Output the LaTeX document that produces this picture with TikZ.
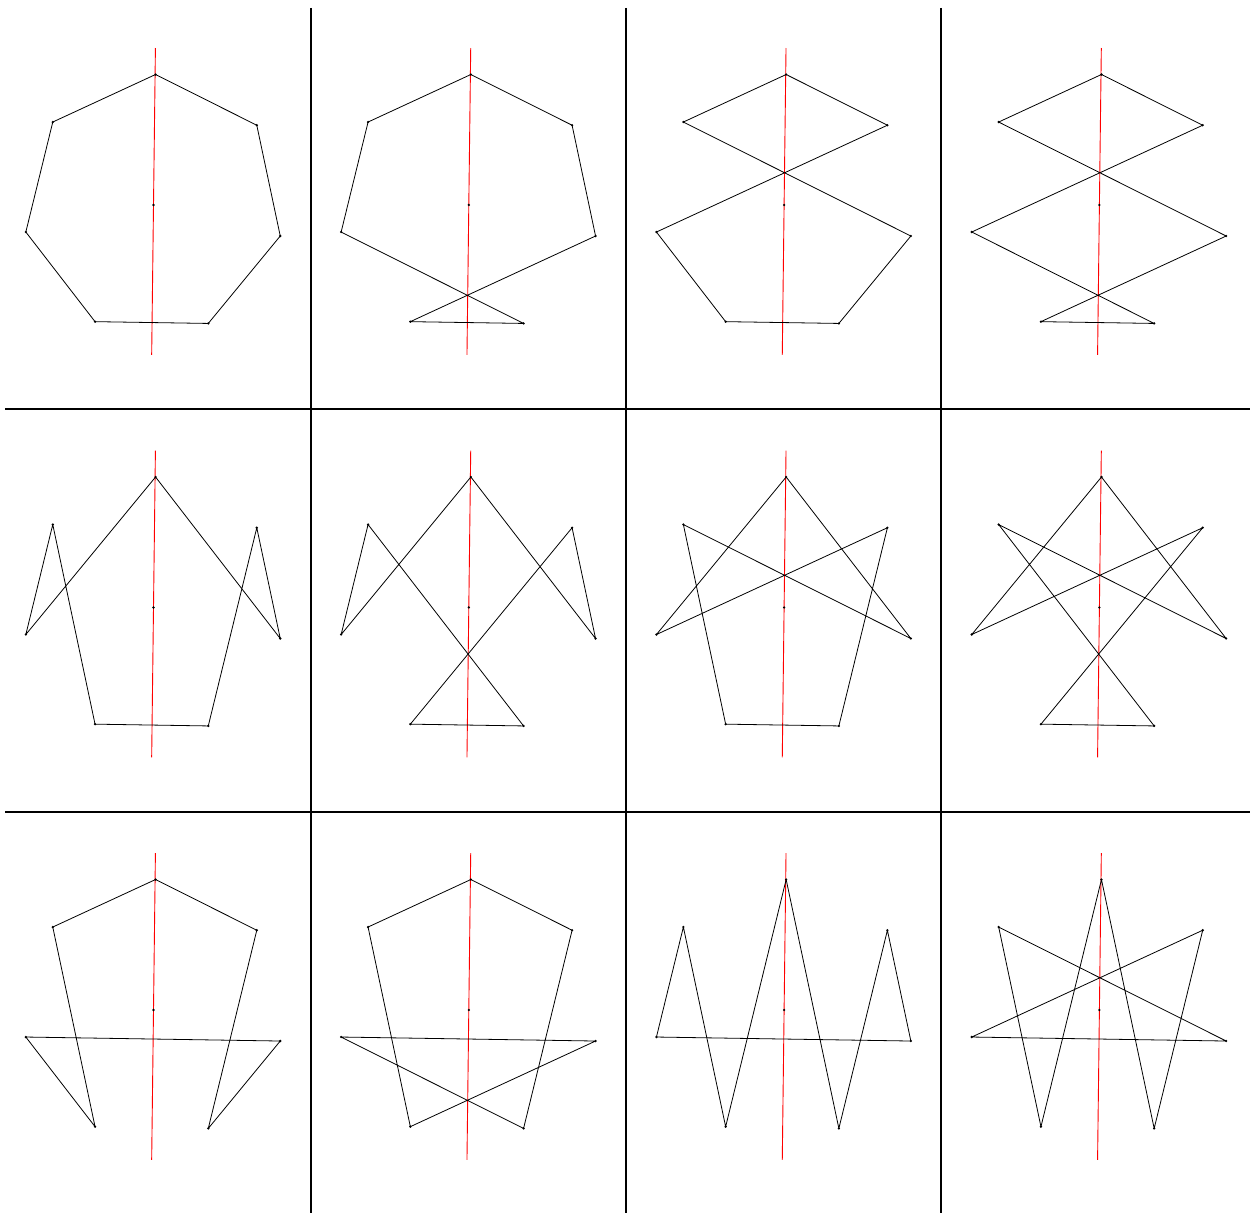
\documentclass[tikz,border=0pt]{standalone}
\usetikzlibrary{calc}
\begin{document}
\begin{tikzpicture}[x=1pt,y=1pt,
  edge/.style={black,line width=0.8pt,line join=round},
  axisline/.style={red,line width=0.9pt},
  gridline/.style={black,line width=1.2pt}]
\useasboundingbox (0,0) rectangle (1250,1213);
% grid
\coordinate (h1a) at (5,{1213-409});   \coordinate (h1b) at (1250,{1213-409});
\coordinate (h2a) at (5,{1213-812});   \coordinate (h2b) at (1250,{1213-812});
\coordinate (v1a) at (311,{1213-8});   \coordinate (v1b) at (311,0);
\coordinate (v2a) at (626,{1213-8});   \coordinate (v2b) at (626,0);
\coordinate (v3a) at (941,{1213-8});   \coordinate (v3b) at (941,0);
\draw[gridline] (h1a) -- (h1b);
\draw[gridline] (h2a) -- (h2b);
\draw[gridline] (v1a) -- (v1b);
\draw[gridline] (v2a) -- (v2b);
\draw[gridline] (v3a) -- (v3b);
% points
\foreach \r in {0,1,2}{
  \foreach \c in {0,1,2,3}{
    \coordinate (C\r\c) at ({153.5+315.3*\c},{1213-205-402.5*\r});
    \foreach \k in {0,...,6}{
      \coordinate (V\r\c-\k) at ($(C\r\c)+({89.1-\k*360/7}:130.5)$);
    }
    \coordinate (A\r\c) at ($(C\r\c)+(89.3:157)$);
    \coordinate (B\r\c) at ($(C\r\c)+(89.3:-150)$);
  }
}
% axes
\foreach \r in {0,1,2}{
  \foreach \c in {0,1,2,3}{
    \draw[axisline] (A\r\c) -- (B\r\c);
  }
}
% polygons
\draw[edge] (V00-0)--(V00-1)--(V00-2)--(V00-3)--(V00-4)--(V00-5)--(V00-6)--cycle;
\draw[edge] (V01-0)--(V01-1)--(V01-2)--(V01-4)--(V01-3)--(V01-5)--(V01-6)--cycle;
\draw[edge] (V02-0)--(V02-1)--(V02-5)--(V02-4)--(V02-3)--(V02-2)--(V02-6)--cycle;
\draw[edge] (V03-0)--(V03-1)--(V03-5)--(V03-3)--(V03-4)--(V03-2)--(V03-6)--cycle;
\draw[edge] (V10-0)--(V10-2)--(V10-1)--(V10-3)--(V10-4)--(V10-6)--(V10-5)--cycle;
\draw[edge] (V11-0)--(V11-2)--(V11-1)--(V11-4)--(V11-3)--(V11-6)--(V11-5)--cycle;
\draw[edge] (V12-0)--(V12-2)--(V12-6)--(V12-4)--(V12-3)--(V12-1)--(V12-5)--cycle;
\draw[edge] (V13-0)--(V13-2)--(V13-6)--(V13-3)--(V13-4)--(V13-1)--(V13-5)--cycle;
\draw[edge] (V20-0)--(V20-1)--(V20-3)--(V20-2)--(V20-5)--(V20-4)--(V20-6)--cycle;
\draw[edge] (V21-0)--(V21-1)--(V21-3)--(V21-5)--(V21-2)--(V21-4)--(V21-6)--cycle;
\draw[edge] (V22-0)--(V22-3)--(V22-1)--(V22-2)--(V22-5)--(V22-6)--(V22-4)--cycle;
\draw[edge] (V23-0)--(V23-3)--(V23-1)--(V23-5)--(V23-2)--(V23-6)--(V23-4)--cycle;
% dots
\foreach \r in {0,1,2}{
  \foreach \c in {0,1,2,3}{
    \fill[black] (C\r\c) circle (1.3pt);
    \foreach \k in {0,...,6}{
      \fill[black] (V\r\c-\k) circle (1.3pt);
    }
  }
}
\end{tikzpicture}
\end{document}
